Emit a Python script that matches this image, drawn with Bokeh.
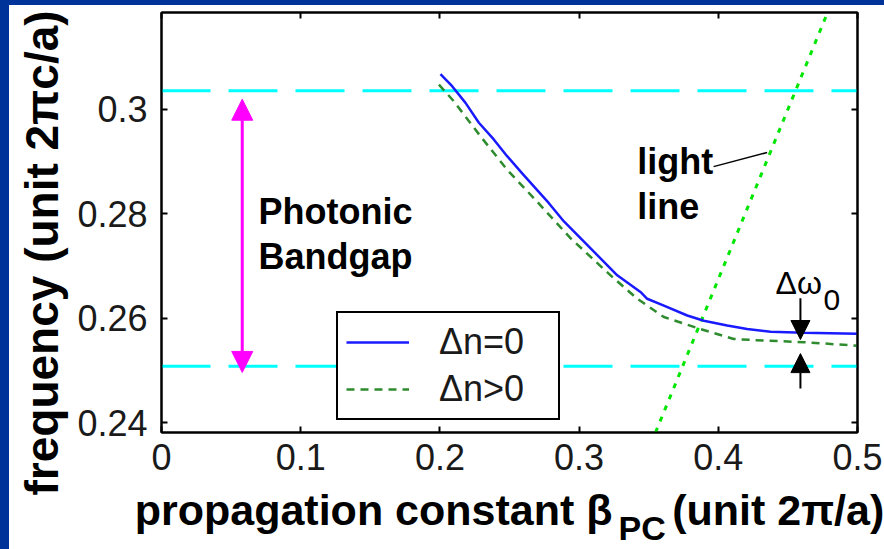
import numpy as np
from bokeh.plotting import figure
from bokeh.models import (Range1d, FixedTicker, LinearAxis, Legend, LegendItem, Arrow,
                          NormalHead, Label, Spacer, Title)
from bokeh.layouts import column, row
from bokeh.core.properties import value
from bokeh.embed import file_html
from bokeh.resources import INLINE

# ---------------- data ----------------
x_ticks = [0, 0.1, 0.2, 0.3, 0.4, 0.5]
x_tick_labels = ["0", "0.1", "0.2", "0.3", "0.4", "0.5"]
y_ticks = [0.24, 0.26, 0.28, 0.3]
y_tick_labels = ["0.24", "0.26", "0.28", "0.3"]

# band for dn = 0
beta_dn0 = [0.2004, 0.2088, 0.2184, 0.2280, 0.2387, 0.2483, 0.2591, 0.2783, 0.2891,
            0.3274, 0.3441, 0.3489, 0.3609, 0.3777, 0.3896, 0.4064, 0.4207, 0.4375,
            0.4614, 0.4998]
freq_dn0 = [0.3067, 0.3044, 0.3012, 0.2974, 0.2942, 0.2910, 0.2877, 0.2820, 0.2785,
            0.2682, 0.2650, 0.2637, 0.2624, 0.2605, 0.2595, 0.2586, 0.2579, 0.2574,
            0.2572, 0.2570]
# band for dn > 0
beta_dnp = [0.1993, 0.2100, 0.2292, 0.2483, 0.2698, 0.2938, 0.3250, 0.3418, 0.3609,
            0.3872, 0.4111, 0.4327, 0.4614, 0.4998]
freq_dnp = [0.3047, 0.3015, 0.2948, 0.2884, 0.2823, 0.2753, 0.2676, 0.2637, 0.2602,
            0.2579, 0.2560, 0.2557, 0.2554, 0.2547]
# light line
beta_light = [0.3549, 0.4782]
freq_light = [0.2381, 0.3183]
# photonic bandgap edges
gap_edges = [0.3035, 0.2508]
gap_arrow_beta = 0.058
gap_arrow_freq = [0.2496, 0.3019]
# delta omega_0 arrows
dw_beta = 0.459
dw_down = [0.2638, 0.2559]
dw_up = [0.2465, 0.2532]
# light line callout
callout_beta = [0.3966, 0.4351]
callout_freq = [0.2890, 0.2917]

# text annotations
bold_text = ["Photonic", "Bandgap", "light", "line"]
bold_x = [0.0697, 0.0697, 0.3417, 0.3417]
bold_y = [0.2804, 0.2717, 0.2900, 0.2813]

NAVY = "#003399"
FONT = "Liberation Sans"
NB = "\u00a0"

p = figure(width=875, height=544, output_backend="svg", toolbar_location=None,
           x_range=Range1d(0, 0.5), y_range=Range1d(0.2381, 0.3185),
           background_fill_color="white", border_fill_color="white")
p.min_border = 0
p.min_border_left = 152
p.min_border_right = 27
p.min_border_top = 7
p.min_border_bottom = 117
p.grid.visible = False
p.outline_line_color = "black"
p.outline_line_width = 2

def style_axis(ax, ticks, labels, show):
    ax.ticker = FixedTicker(ticks=ticks)
    ax.major_label_overrides = {t: l for t, l in zip(ticks, labels)}
    ax.major_tick_in = 6
    ax.major_tick_out = 0
    ax.major_tick_line_width = 2
    ax.major_tick_line_color = "black"
    ax.minor_tick_line_color = None
    ax.axis_line_width = 2
    ax.axis_line_color = "black"
    ax.major_label_text_font = FONT
    if show:
        ax.major_label_text_font_size = "36px"
        ax.major_label_text_color = "#1a1a1a"
    else:
        ax.major_label_text_font_size = "1px"
        ax.major_label_text_color = None
        ax.major_label_standoff = 0

style_axis(p.xaxis[0], x_ticks, x_tick_labels, True)
style_axis(p.yaxis[0], y_ticks, y_tick_labels, True)
p.xaxis[0].major_label_standoff = 11
p.yaxis[0].major_label_standoff = 14

# x axis title
xa = p.xaxis[0]
xa.axis_label = "propagation constant β" + NB * 5 + "(unit 2π/a)"
xa.axis_label_text_font = FONT
xa.axis_label_text_font_style = "bold"
xa.axis_label_text_font_size = "43px"
xa.axis_label_text_color = "black"
xa.axis_label_standoff = 13

top_ax = LinearAxis()
right_ax = LinearAxis()
style_axis(top_ax, x_ticks, x_tick_labels, False)
style_axis(right_ax, y_ticks, y_tick_labels, False)
p.add_layout(top_ax, "above")
p.add_layout(right_ax, "right")

# y axis title (offset so that it starts below the frame like the original)
p.add_layout(Title(text="frequency (unit 2πc/a)", align="left", offset=-63,
                   vertical_align="top", standoff=10, text_font=FONT,
                   text_font_style="bold", text_font_size="46px",
                   text_color="black"), "left")

# subscript PC of beta
p.add_layout(Title(text="PC", align="left", offset=457, vertical_align="top",
                   standoff=-55, text_font=FONT, text_font_style="bold",
                   text_font_size="34px", text_color="black"), "below")

# bandgap edges
for g in gap_edges:
    p.line([0, 0.5], [g, g], line_color="#00ffff", line_width=3, line_dash="49 18")

# light line
p.line(beta_light, freq_light, line_color="#00e600", line_width=3, line_dash="5 7")

# bands
r0 = p.line(beta_dn0, freq_dn0, line_color="#1a1aff", line_width=2.5)
r1 = p.line(beta_dnp, freq_dnp, line_color="#2e8b2e", line_width=2.5, line_dash="8 6")

# callout
p.line(callout_beta, callout_freq, line_color="black", line_width=1.5)

# magenta double arrow
p.add_layout(Arrow(x_start=gap_arrow_beta, y_start=gap_arrow_freq[0],
                   x_end=gap_arrow_beta, y_end=gap_arrow_freq[1],
                   line_color="#ff00ff", line_width=3,
                   start=NormalHead(size=21, fill_color="#ff00ff", line_color="#ff00ff"),
                   end=NormalHead(size=21, fill_color="#ff00ff", line_color="#ff00ff")))
# delta omega arrows
for seg in (dw_down, dw_up):
    p.add_layout(Arrow(x_start=dw_beta, y_start=seg[0], x_end=dw_beta, y_end=seg[1],
                       line_color="black", line_width=2,
                       end=NormalHead(size=19, fill_color="black", line_color="black")))

# bold texts
p.text(x=bold_x, y=bold_y, text=bold_text, text_font=value(FONT), text_font_style="bold",
       text_font_size="36px", text_color="black", text_baseline="alphabetic")

# delta omega label
p.add_layout(Label(x=0.4411, y=0.2667, text="Δω", text_font=FONT, text_font_size="32px",
                   text_color="black", text_baseline="alphabetic"))
p.add_layout(Label(x=0.4756, y=0.2634, text="0", text_font=FONT, text_font_size="30px",
                   text_color="black", text_baseline="alphabetic"))

# legend
legend = Legend(items=[LegendItem(label="Δn=0", renderers=[r0]),
                       LegendItem(label="Δn>0", renderers=[r1])],
                location=(175, 12), orientation="vertical",
                glyph_width=63, glyph_height=36, label_height=36, label_width=111,
                label_standoff=30, spacing=5, padding=8, margin=0,
                label_text_font=FONT, label_text_font_size="36px",
                label_text_color="#1a1a1a",
                border_line_color="black", border_line_width=2, border_line_alpha=1.0,
                background_fill_color="white", background_fill_alpha=1.0)
p.add_layout(legend, "center")

top_bar = Spacer(width=884, height=5, styles={"background-color": NAVY})
left_bar = Spacer(width=9, height=544, styles={"background-color": NAVY})
layout = column(top_bar, row(left_bar, p, spacing=0), spacing=0)

open("out.html", "w").write(file_html(layout, INLINE))
